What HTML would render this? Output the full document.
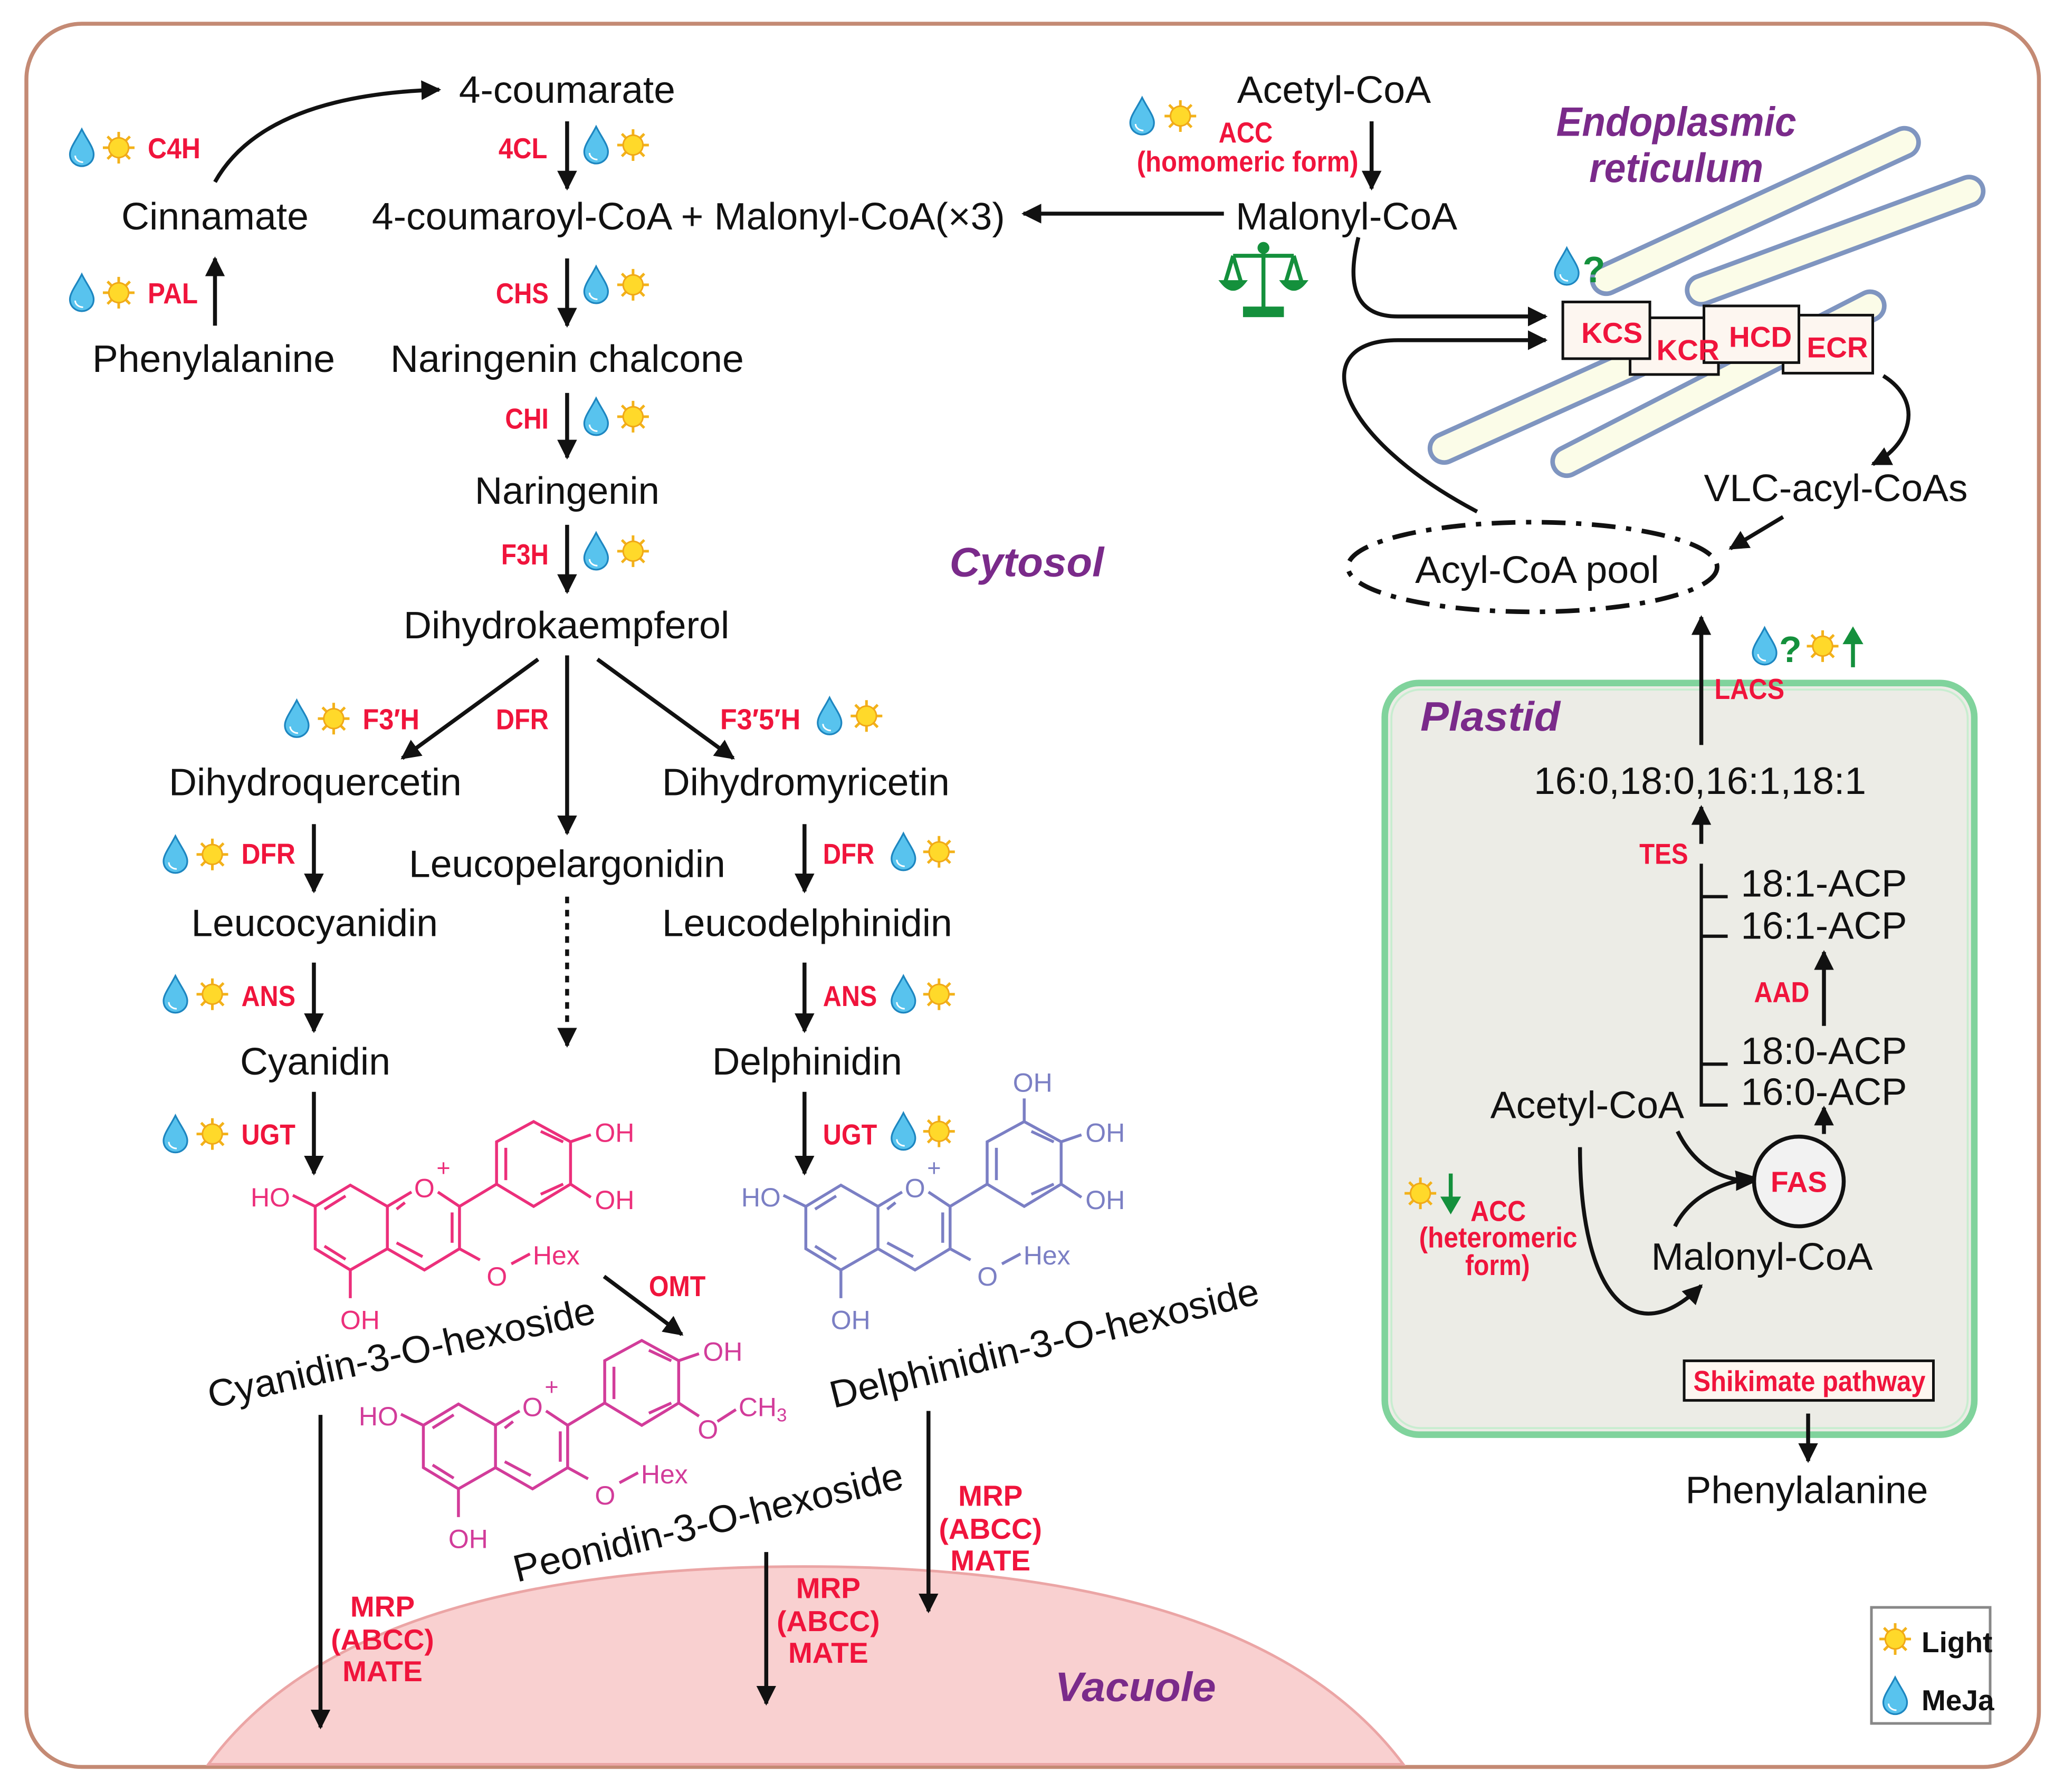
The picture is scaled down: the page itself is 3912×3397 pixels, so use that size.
<!DOCTYPE html>
<html><head><meta charset="utf-8">
<style>
html,body{margin:0;padding:0;background:#fff;}
svg{display:block;}
.t{font-family:"Liberation Sans",sans-serif;font-size:29px;fill:#111;}
.e{font-family:"Liberation Sans",sans-serif;font-size:22px;font-weight:bold;fill:#f0143c;}
.p{font-family:"Liberation Sans",sans-serif;font-weight:bold;font-style:italic;fill:#7a2a8a;font-size:31px;}
.m{font-family:"Liberation Sans",sans-serif;font-size:20px;}
</style></head><body>
<svg width="3912" height="3397" viewBox="0 0 1565 1359" xmlns="http://www.w3.org/2000/svg">
<defs>
<marker id="ah" viewBox="0 0 10 10" refX="9" refY="5" markerWidth="5" markerHeight="5" orient="auto-start-reverse" markerUnits="strokeWidth"><path d="M0,0 L10,5 L0,10 z" fill="#111"/></marker>
<g id="sun"><g stroke="#f3b21a" stroke-width="2"><line x1="-12" y1="0" x2="12" y2="0"/><line x1="0" y1="-12" x2="0" y2="12"/><line x1="-8.5" y1="-8.5" x2="8.5" y2="8.5"/><line x1="-8.5" y1="8.5" x2="8.5" y2="-8.5"/></g><circle r="7.5" fill="#ffd92a" stroke="#f0a818" stroke-width="1.2"/></g>
<g id="drop"><path d="M0,-14 C4,-6 9,0 9,5 C9,11 4,14 0,14 C-4,14 -9,11 -9,5 C-9,0 -4,-6 0,-14 Z" fill="#58c3ee" stroke="#1d86c0" stroke-width="1.3"/><path d="M-5,6 C-5,9 -2,11 1,11" fill="none" stroke="#fff" stroke-width="1.2"/></g>
<g id="core" fill="none" stroke-width="2.2">
<path d="M265.6,898.8 L239,914.9 L239,947 L265.6,963.1 L293.7,947 L293.7,914.9 Z"/>
<path d="M293.7,914.9 L312,904 M332,904 L348.4,914.9 L348.4,947 L321.8,963.1 L293.7,947"/>
<path d="M262,907 L246,917 M246,945 L262,955 M300.7,917 L307,912 M300.7,942.5 L320.4,953 M342.8,919.5 L342.8,942.5"/>
<path d="M348.4,914.9 L376.5,898 L376.5,865.9 L404.6,850.6 L432.6,865.9 L432.6,898 L404.6,914.9 L376.5,898"/>
<path d="M383.5,870.5 L383.5,895 M410,858 L427,866 M410,905.7 L427,898"/>
<path d="M222,906.5 L239,914.9 M265.6,963.1 L265.6,984.5 M348.4,947 L363.9,955.5 M387.7,958.5 L401.8,950.9"/>
</g>
</defs>
<rect width="1565" height="1359" fill="#fff"/>
<rect x="20" y="18" width="1526" height="1322" rx="42" fill="none" stroke="#c48a74" stroke-width="3"/>
<path d="M158,1338 C250,1212 450,1188 610,1188 C770,1188 970,1212 1064,1338 Z" fill="#f9d0d0" stroke="#eba5a5" stroke-width="2"/>
<rect x="1050" y="518" width="447" height="570" rx="26" fill="#ececE6" stroke="#80d39c" stroke-width="5"/>
<rect x="1055" y="523" width="437" height="560" rx="22" fill="none" stroke="#c8edd0" stroke-width="1.5"/>
<g stroke-linecap="round">
<g stroke="#7f95c0" stroke-width="25"><line x1="1218" y1="212" x2="1444" y2="108"/><line x1="1290" y1="220" x2="1493" y2="145"/><line x1="1095" y1="340" x2="1255" y2="268"/><line x1="1188" y1="350" x2="1418" y2="232"/></g>
<g stroke="#fbfce8" stroke-width="18"><line x1="1218" y1="212" x2="1444" y2="108"/><line x1="1290" y1="220" x2="1493" y2="145"/><line x1="1095" y1="340" x2="1255" y2="268"/><line x1="1188" y1="350" x2="1418" y2="232"/></g>
</g>
<g stroke="#111" stroke-width="2" fill="#fdf6f0">
<rect x="1236" y="241" width="67" height="43"/><rect x="1185" y="229" width="66" height="43"/><rect x="1352" y="239" width="68" height="44"/><rect x="1292" y="232" width="72" height="43"/>
</g>
<text class="e" x="1199" y="260" font-size="24">KCS</text><text class="e" x="1256" y="273" font-size="24">KCR</text><text class="e" x="1311" y="263" font-size="24">HCD</text><text class="e" x="1370" y="271" font-size="24">ECR</text>
<ellipse cx="1162" cy="430" rx="140" ry="34" fill="none" stroke="#111" stroke-width="3.5" stroke-dasharray="18,8,4,8"/>
<g stroke="#111" stroke-width="3" fill="none" marker-end="url(#ah)">
<path d="M163,138 Q200,72 333,68"/>
<line x1="430" y1="92" x2="430" y2="143"/>
<line x1="163" y1="247" x2="163" y2="196"/>
<line x1="430" y1="196" x2="430" y2="247"/>
<line x1="430" y1="298" x2="430" y2="347"/>
<line x1="430" y1="398" x2="430" y2="449"/>
<line x1="408" y1="500" x2="305" y2="575"/>
<line x1="430" y1="497" x2="430" y2="632"/>
<line x1="453" y1="500" x2="556" y2="575"/>
<line x1="238" y1="625" x2="238" y2="676"/>
<line x1="610" y1="625" x2="610" y2="676"/>
<line x1="430" y1="680" x2="430" y2="793" stroke-dasharray="5,5"/>
<line x1="238" y1="730" x2="238" y2="782"/>
<line x1="610" y1="730" x2="610" y2="782"/>
<line x1="238" y1="828" x2="238" y2="890"/>
<line x1="610" y1="828" x2="610" y2="890"/>
<line x1="458" y1="968" x2="517" y2="1012"/>
<line x1="243" y1="1073" x2="243" y2="1310"/>
<line x1="581" y1="1177" x2="581" y2="1292"/>
<line x1="704" y1="1070" x2="704" y2="1222"/>
<line x1="928" y1="162" x2="776" y2="162"/>
<line x1="1040" y1="92" x2="1040" y2="143"/>
<path d="M1030,180 Q1015,240 1060,240 L1172,240"/>
<path d="M1120,388 C1010,330 990,258 1060,258 L1172,258"/>
<path d="M1428,285 C1460,305 1448,338 1420,352"/>
<line x1="1352" y1="392" x2="1312" y2="416"/>
<line x1="1290" y1="565" x2="1290" y2="468"/>
<line x1="1290" y1="640" x2="1290" y2="612"/>
<line x1="1383" y1="778" x2="1383" y2="722"/>
<line x1="1383" y1="860" x2="1383" y2="840"/>
<path d="M1272,858 Q1290,895 1330,896"/>
<path d="M1270,930 Q1285,900 1330,893"/>
<path d="M1198,870 C1198,985 1240,1025 1290,975"/>
<line x1="1371" y1="1072" x2="1371" y2="1108"/>
</g>
<g stroke="#111" stroke-width="2.5" fill="none">
<path d="M1290,655 L1290,838 L1310,838 M1290,680 L1310,680 M1290,710 L1310,710 M1290,807 L1310,807"/>
</g>
<circle cx="1364" cy="896" r="34" fill="#f2f2f2" stroke="#111" stroke-width="3"/>
<text class="e" x="1364" y="904" text-anchor="middle" font-size="22">FAS</text>
<g class="t">
<text x="348" y="78" textLength="164" lengthAdjust="spacingAndGlyphs">4-coumarate</text>
<text x="92" y="174" textLength="142" lengthAdjust="spacingAndGlyphs">Cinnamate</text>
<text x="282" y="174" textLength="480" lengthAdjust="spacingAndGlyphs">4-coumaroyl-CoA + Malonyl-CoA(×3)</text>
<text x="70" y="282" textLength="184" lengthAdjust="spacingAndGlyphs">Phenylalanine</text>
<text x="296" y="282" textLength="268" lengthAdjust="spacingAndGlyphs">Naringenin chalcone</text>
<text x="360" y="382" textLength="140" lengthAdjust="spacingAndGlyphs">Naringenin</text>
<text x="306" y="484" textLength="247" lengthAdjust="spacingAndGlyphs">Dihydrokaempferol</text>
<text x="128" y="603" textLength="222" lengthAdjust="spacingAndGlyphs">Dihydroquercetin</text>
<text x="502" y="603" textLength="218" lengthAdjust="spacingAndGlyphs">Dihydromyricetin</text>
<text x="310" y="665" textLength="240" lengthAdjust="spacingAndGlyphs">Leucopelargonidin</text>
<text x="145" y="710" textLength="187" lengthAdjust="spacingAndGlyphs">Leucocyanidin</text>
<text x="502" y="710" textLength="220" lengthAdjust="spacingAndGlyphs">Leucodelphinidin</text>
<text x="182" y="815" textLength="114" lengthAdjust="spacingAndGlyphs">Cyanidin</text>
<text x="540" y="815" textLength="144" lengthAdjust="spacingAndGlyphs">Delphinidin</text>
<text transform="translate(160,1068) rotate(-12.5)" textLength="300" lengthAdjust="spacingAndGlyphs">Cyanidin-3-O-hexoside</text>
<text transform="translate(632,1068) rotate(-13.8)" textLength="334" lengthAdjust="spacingAndGlyphs">Delphinidin-3-O-hexoside</text>
<text transform="translate(392,1200) rotate(-13.7)" textLength="303" lengthAdjust="spacingAndGlyphs">Peonidin-3-O-hexoside</text>
<text x="938" y="78" textLength="147" lengthAdjust="spacingAndGlyphs">Acetyl-CoA</text>
<text x="937" y="174" textLength="168" lengthAdjust="spacingAndGlyphs">Malonyl-CoA</text>
<text x="1292" y="380" textLength="200" lengthAdjust="spacingAndGlyphs">VLC-acyl-CoAs</text>
<text x="1073" y="442" textLength="185" lengthAdjust="spacingAndGlyphs">Acyl-CoA pool</text>
<text x="1163" y="602" textLength="252" lengthAdjust="spacingAndGlyphs">16:0,18:0,16:1,18:1</text>
<text x="1320" y="680" textLength="126" lengthAdjust="spacingAndGlyphs">18:1-ACP</text>
<text x="1320" y="712" textLength="126" lengthAdjust="spacingAndGlyphs">16:1-ACP</text>
<text x="1320" y="807" textLength="126" lengthAdjust="spacingAndGlyphs">18:0-ACP</text>
<text x="1320" y="838" textLength="126" lengthAdjust="spacingAndGlyphs">16:0-ACP</text>
<text x="1130" y="848" textLength="147" lengthAdjust="spacingAndGlyphs">Acetyl-CoA</text>
<text x="1252" y="963" textLength="168" lengthAdjust="spacingAndGlyphs">Malonyl-CoA</text>
<text x="1278" y="1140" textLength="184" lengthAdjust="spacingAndGlyphs">Phenylalanine</text>
</g>
<text class="p" x="720" y="437" textLength="117" lengthAdjust="spacingAndGlyphs">Cytosol</text>
<text class="p" x="1180" y="103" textLength="182" lengthAdjust="spacingAndGlyphs">Endoplasmic</text>
<text class="p" x="1205" y="138" textLength="132" lengthAdjust="spacingAndGlyphs">reticulum</text>
<text class="p" x="1077" y="554" textLength="106" lengthAdjust="spacingAndGlyphs">Plastid</text>
<text class="p" x="800" y="1290" textLength="122" lengthAdjust="spacingAndGlyphs">Vacuole</text>
<g class="e">
<text x="112" y="120" textLength="40" lengthAdjust="spacingAndGlyphs">C4H</text>
<text x="378" y="120" textLength="37" lengthAdjust="spacingAndGlyphs">4CL</text>
<text x="924" y="108" textLength="41" lengthAdjust="spacingAndGlyphs">ACC</text>
<text x="862" y="130" textLength="168" lengthAdjust="spacingAndGlyphs">(homomeric form)</text>
<text x="112" y="230" textLength="38" lengthAdjust="spacingAndGlyphs">PAL</text>
<text x="376" y="230" textLength="40" lengthAdjust="spacingAndGlyphs">CHS</text>
<text x="383" y="325" textLength="33" lengthAdjust="spacingAndGlyphs">CHI</text>
<text x="380" y="428" textLength="36" lengthAdjust="spacingAndGlyphs">F3H</text>
<text x="275" y="553" textLength="43" lengthAdjust="spacingAndGlyphs">F3′H</text>
<text x="376" y="553" textLength="40" lengthAdjust="spacingAndGlyphs">DFR</text>
<text x="546" y="553" textLength="61" lengthAdjust="spacingAndGlyphs">F3′5′H</text>
<text x="183" y="655" textLength="41" lengthAdjust="spacingAndGlyphs">DFR</text>
<text x="624" y="655" textLength="39" lengthAdjust="spacingAndGlyphs">DFR</text>
<text x="183" y="763" textLength="41" lengthAdjust="spacingAndGlyphs">ANS</text>
<text x="624" y="763" textLength="41" lengthAdjust="spacingAndGlyphs">ANS</text>
<text x="183" y="868" textLength="41" lengthAdjust="spacingAndGlyphs">UGT</text>
<text x="624" y="868" textLength="41" lengthAdjust="spacingAndGlyphs">UGT</text>
<text x="492" y="983" textLength="43" lengthAdjust="spacingAndGlyphs">OMT</text>
<text x="1300" y="530" textLength="53" lengthAdjust="spacingAndGlyphs">LACS</text>
<text x="1243" y="655" textLength="37" lengthAdjust="spacingAndGlyphs">TES</text>
<text x="1330" y="760" textLength="42" lengthAdjust="spacingAndGlyphs">AAD</text>
<text x="1115" y="926" textLength="42" lengthAdjust="spacingAndGlyphs">ACC</text>
<text x="1076" y="946" textLength="120" lengthAdjust="spacingAndGlyphs">(heteromeric</text>
<text x="1111" y="967" textLength="49" lengthAdjust="spacingAndGlyphs">form)</text>
<text x="290" y="1226" text-anchor="middle">MRP</text><text x="290" y="1251" text-anchor="middle">(ABCC)</text><text x="290" y="1275" text-anchor="middle">MATE</text>
<text x="628" y="1212" text-anchor="middle">MRP</text><text x="628" y="1237" text-anchor="middle">(ABCC)</text><text x="628" y="1261" text-anchor="middle">MATE</text>
<text x="751" y="1142" text-anchor="middle">MRP</text><text x="751" y="1167" text-anchor="middle">(ABCC)</text><text x="751" y="1191" text-anchor="middle">MATE</text>
</g>
<rect x="1277" y="1032" width="189" height="30" fill="#fdf6f0" stroke="#111" stroke-width="2"/>
<text class="e" x="1284" y="1055" textLength="176" lengthAdjust="spacingAndGlyphs" font-size="21">Shikimate pathway</text>
<rect x="1419" y="1219" width="90" height="88" fill="#fff" stroke="#888" stroke-width="2"/>
<text x="1457" y="1253" font-family="Liberation Sans,sans-serif" font-weight="bold" font-size="22" fill="#111">Light</text>
<text x="1457" y="1297" font-family="Liberation Sans,sans-serif" font-weight="bold" font-size="22" fill="#111">MeJa</text>
<g>
<use href="#drop" x="62" y="112"/><use href="#sun" x="90" y="112"/>
<use href="#drop" x="452" y="110"/><use href="#sun" x="480" y="110"/>
<use href="#drop" x="866" y="88"/><use href="#sun" x="895" y="88"/>
<use href="#drop" x="62" y="222"/><use href="#sun" x="90" y="222"/>
<use href="#drop" x="452" y="216"/><use href="#sun" x="480" y="216"/>
<use href="#drop" x="452" y="316"/><use href="#sun" x="480" y="316"/>
<use href="#drop" x="452" y="418"/><use href="#sun" x="480" y="418"/>
<use href="#drop" x="225" y="545"/><use href="#sun" x="253" y="545"/>
<use href="#drop" x="629" y="543"/><use href="#sun" x="657" y="543"/>
<use href="#drop" x="133" y="648"/><use href="#sun" x="161" y="648"/>
<use href="#drop" x="685" y="646"/><use href="#sun" x="712" y="646"/>
<use href="#drop" x="133" y="754"/><use href="#sun" x="161" y="754"/>
<use href="#drop" x="685" y="754"/><use href="#sun" x="712" y="754"/>
<use href="#drop" x="133" y="860"/><use href="#sun" x="161" y="860"/>
<use href="#drop" x="685" y="858"/><use href="#sun" x="712" y="858"/>
<use href="#drop" x="1188" y="202"/>
<use href="#drop" x="1338" y="490"/><use href="#sun" x="1382" y="490"/>
<use href="#sun" x="1077" y="905"/>
<use href="#sun" x="1437" y="1243"/><use href="#drop" x="1437" y="1286"/>
</g>
<g font-family="Liberation Sans,sans-serif" font-weight="bold" font-size="28" fill="#14903c">
<text x="1200" y="214">?</text><text x="1349" y="502">?</text>
</g>
<g stroke="#14903c" stroke-width="3" fill="#14903c">
<line x1="1405" y1="506" x2="1405" y2="486"/><path d="M1398,488 L1405,476 L1412,488 Z" stroke-width="1"/>
<line x1="1100" y1="890" x2="1100" y2="910"/><path d="M1093,908 L1100,920 L1107,908 Z" stroke-width="1"/>
</g>
<g stroke="#14903c" stroke-width="3" fill="none">
<line x1="958" y1="186" x2="958" y2="236"/><line x1="935" y1="194" x2="981" y2="194"/>
<path d="M935,194 L929,214 M935,194 L941,214 M981,194 L975,214 M981,194 L987,214"/>
<path d="M927,214 Q935,224 943,214 Z M973,214 Q981,224 989,214 Z" fill="#14903c"/>
<rect x="944" y="234" width="28" height="5" fill="#14903c"/>
<circle cx="958" cy="188" r="3" fill="#14903c"/>
</g>
<g stroke="#ec2f7b" fill="#ec2f7b">
<use href="#core"/>
<path d="M432.6,865.9 L448,860.6 M432.6,898 L448,908" stroke-width="2.2"/>
</g>
<g class="m" fill="#ec2f7b">
<text x="190" y="915">HO</text><text x="258" y="1008">OH</text><text x="314" y="908">O</text><text x="331" y="892" font-size="18">+</text>
<text x="369" y="975">O</text><text x="404" y="959">Hex</text><text x="451" y="866">OH</text><text x="451" y="917">OH</text>
</g>
<g transform="translate(372,0)" stroke="#7b7fc4" fill="#7b7fc4">
<use href="#core"/>
<path d="M432.6,865.9 L448,860.6 M432.6,898 L448,908 M404.6,850.6 L404.6,833" stroke-width="2.2"/>
</g>
<g class="m" fill="#7b7fc4" transform="translate(372,0)">
<text x="190" y="915">HO</text><text x="258" y="1008">OH</text><text x="314" y="908">O</text><text x="331" y="892" font-size="18">+</text>
<text x="369" y="975">O</text><text x="404" y="959">Hex</text><text x="451" y="866">OH</text><text x="451" y="917">OH</text><text x="396" y="828">OH</text>
</g>
<g transform="translate(82,166)" stroke="#d23c9a" fill="#d23c9a">
<use href="#core"/>
<path d="M432.6,865.9 L448,860.6 M432.6,898 L448,908 M462,912 L476,903" stroke-width="2.2"/>
</g>
<g class="m" fill="#d23c9a" transform="translate(82,166)">
<text x="190" y="915">HO</text><text x="258" y="1008">OH</text><text x="314" y="908">O</text><text x="331" y="892" font-size="18">+</text>
<text x="369" y="975">O</text><text x="404" y="959">Hex</text><text x="451" y="866">OH</text><text x="447" y="925">O</text><text x="478" y="908">CH<tspan font-size="14" dy="4">3</tspan></text>
</g>
</svg>
</body></html>
